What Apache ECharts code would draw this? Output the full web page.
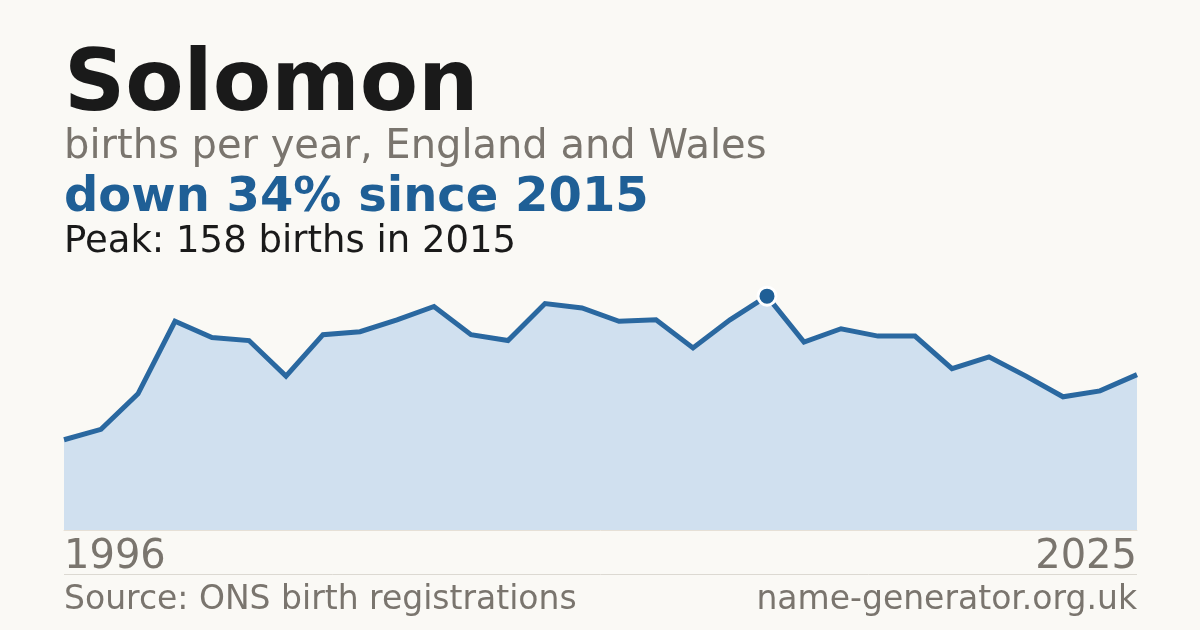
<!DOCTYPE html>
<html>
<head>
<meta charset="utf-8">
<script src="https://cdn.jsdelivr.net/npm/echarts@6/dist/echarts.min.js"></script>
<style>
  html, body { margin: 0; padding: 0; background: #faf9f5; }
  #main { width: 1200px; height: 630px; }
</style>
</head>
<body>
<div id="main"></div>
<script>
// data
var years = [];
for (var y = 1996; y <= 2025; y++) years.push(String(y));
var births = [61, 68, 92, 141, 130, 128, 104, 132, 134, 142, 151, 132, 128, 153, 150,
              141, 142, 123, 142, 158, 127, 136, 131, 131, 109, 117, 104, 90, 94, 105];
var peakYear = '2015';
var peakValue = 158;

var titleText = 'Solomon';
var subtitleText = 'births per year, England and Wales';
var trendText = 'down 34% since 2015';
var peakText = 'Peak: 158 births in 2015';
var sourceText = 'Source: ONS birth registrations';
var siteText = 'name-generator.org.uk';

var FONT = '"DejaVu Sans", sans-serif';
var GRAY = '#7a756e';
var BLUE = '#1f5f96';

var chartDom = document.getElementById('main');
var myChart = echarts.init(chartDom);

var option = {
    backgroundColor: '#faf9f5',
    animation: false,
    grid: {
        left: 64,
        right: 63,
        top: 234,
        height: 296
    },
    xAxis: {
        type: 'category',
        boundaryGap: false,
        data: years,
        axisLine: { show: true, lineStyle: { color: '#e6e0d6', width: 1 } },
        axisTick: { show: false },
        axisLabel: {
            // only first and last year are labelled
            interval: function (i) { return i === 0 || i === years.length - 1; },
            alignMinLabel: 'left',
            alignMaxLabel: 'right',
            color: GRAY,
            fontFamily: FONT,
            fontSize: 40,
            margin: 8,
            verticalAlign: 'top'
        },
        splitLine: { show: false }
    },
    yAxis: {
        type: 'value',
        min: 0,
        max: 200,
        show: false,
        splitLine: { show: false }
    },
    series: [{
        type: 'line',
        data: births,
        symbol: 'none',
        lineStyle: { color: '#2a68a0', width: 5, join: 'miter' },
        areaStyle: { color: '#d0e0ef', opacity: 1 },
        markPoint: {
            symbol: 'circle',
            symbolSize: 18,
            itemStyle: { color: BLUE, borderColor: '#ffffff', borderWidth: 3 },
            label: { show: false },
            data: [{ coord: [peakYear, peakValue] }]
        }
    }],
    graphic: [
        { type: 'text', x: 64, y: 88, style: { text: titleText, fill: '#1a1a1a', font: 'bold 85px ' + FONT, verticalAlign: 'middle' } },
        { type: 'text', x: 64, y: 148, style: { text: subtitleText, fill: GRAY, font: '40px ' + FONT, verticalAlign: 'middle' } },
        { type: 'text', x: 64, y: 199, style: { text: trendText, fill: BLUE, font: 'bold 48px ' + FONT, verticalAlign: 'middle' } },
        { type: 'text', x: 64, y: 242, style: { text: peakText, fill: '#1a1a1a', font: '37px ' + FONT, verticalAlign: 'middle' } },
        { type: 'line', shape: { x1: 64, y1: 574.5, x2: 1137, y2: 574.5 }, style: { stroke: '#dcd9d2', lineWidth: 1 } },
        { type: 'text', x: 64, y: 600, style: { text: sourceText, fill: GRAY, font: '33px ' + FONT, verticalAlign: 'middle' } },
        { type: 'text', x: 1137, y: 600, style: { text: siteText, fill: GRAY, font: '33px ' + FONT, align: 'right', verticalAlign: 'middle' } }
    ]
};

myChart.setOption(option);
</script>
</body>
</html>
